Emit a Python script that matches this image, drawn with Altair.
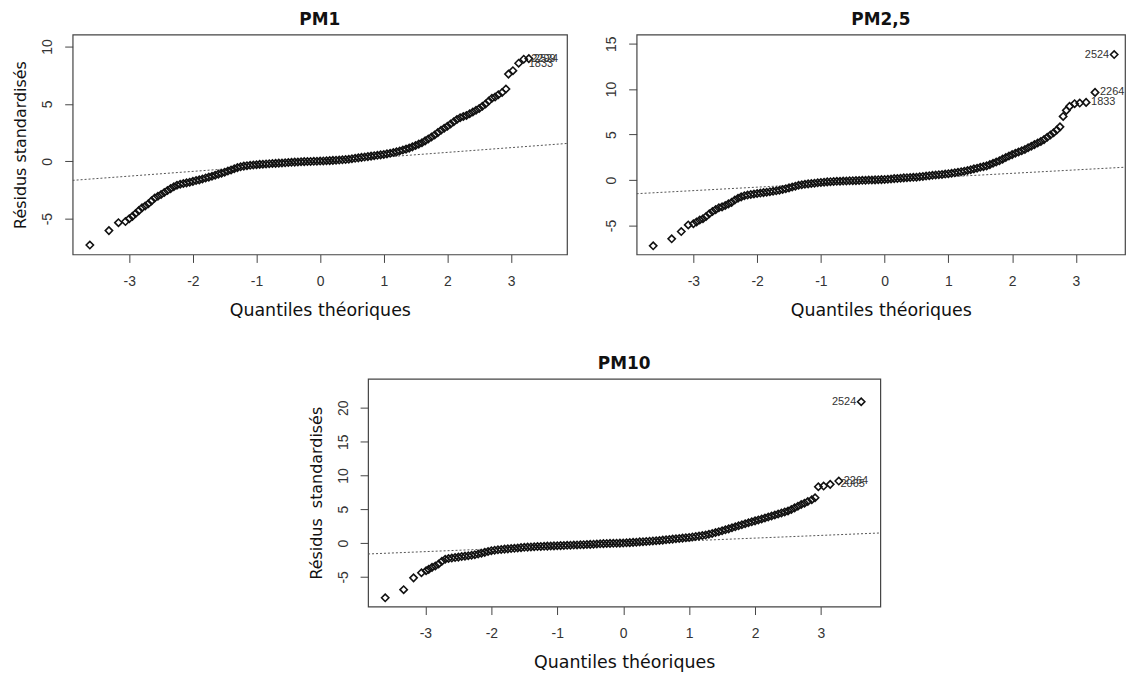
import altair as alt
import pandas as pd

# ---------------- data ----------------
titles = ["PM1", "PM2,5", "PM10"]
x_ticks = [-3, -2, -1, 0, 1, 2, 3]

pm1_q = [-3.62, -3.32, -3.17, -3.06, -3.00, -2.95, -2.90, -2.85, -2.80, -2.75,
         -2.70, -2.65, -2.60, -2.55, -2.50, -2.45, -2.40, -2.35, -2.30, -2.25,
         -2.20, -2.15, -2.10, -2.05, -2.00, -1.95, -1.90, -1.85, -1.80, -1.75,
         -1.70, -1.65, -1.60, -1.55, -1.50, -1.45, -1.40, -1.35, -1.30, -1.25,
         -1.20, -1.15, -1.10, -1.05, -1.00, -0.95, -0.90, -0.85, -0.80, -0.75,
         -0.70, -0.65, -0.60, -0.55, -0.50, -0.45, -0.40, -0.35, -0.30, -0.25,
         -0.20, -0.15, -0.10, -0.05, 0.00, 0.05, 0.10, 0.15, 0.20, 0.25,
         0.30, 0.35, 0.40, 0.45, 0.50, 0.55, 0.60, 0.65, 0.70, 0.75,
         0.80, 0.85, 0.90, 0.95, 1.00, 1.05, 1.10, 1.15, 1.20, 1.25,
         1.30, 1.35, 1.40, 1.45, 1.50, 1.55, 1.60, 1.65, 1.70, 1.75,
         1.80, 1.85, 1.90, 1.95, 2.00, 2.05, 2.10, 2.15, 2.20, 2.25,
         2.30, 2.35, 2.40, 2.45, 2.50, 2.55, 2.60, 2.65, 2.70, 2.75,
         2.80, 2.86, 2.92, 2.96, 3.03, 3.12, 3.20, 3.28]
pm1_r = [-7.30, -6.04, -5.35, -5.25, -5.00, -4.80, -4.55, -4.30, -4.05, -3.90,
         -3.70, -3.45, -3.20, -3.05, -2.90, -2.72, -2.55, -2.38, -2.22, -2.08,
         -2.00, -1.94, -1.88, -1.82, -1.75, -1.68, -1.62, -1.54, -1.45, -1.38,
         -1.30, -1.21, -1.12, -1.04, -0.95, -0.85, -0.75, -0.65, -0.55, -0.48,
         -0.42, -0.38, -0.35, -0.32, -0.30, -0.27, -0.25, -0.23, -0.21, -0.19,
         -0.18, -0.16, -0.15, -0.13, -0.11, -0.09, -0.07, -0.06, -0.04, -0.03,
         -0.02, -0.01, 0.00, 0.01, 0.02, 0.03, 0.05, 0.06, 0.08, 0.10,
         0.11, 0.13, 0.15, 0.18, 0.22, 0.26, 0.30, 0.34, 0.37, 0.41,
         0.45, 0.49, 0.52, 0.56, 0.60, 0.65, 0.70, 0.76, 0.82, 0.90,
         0.98, 1.06, 1.15, 1.26, 1.38, 1.50, 1.62, 1.78, 1.95, 2.12,
         2.30, 2.50, 2.70, 2.88, 3.05, 3.25, 3.45, 3.65, 3.80, 3.90,
         4.00, 4.15, 4.30, 4.45, 4.60, 4.80, 5.00, 5.25, 5.50, 5.60,
         5.80, 6.00, 6.30, 7.60, 7.90, 8.55, 8.90, 8.95]

pm25_q = [-3.63, -3.34, -3.19, -3.08, -3.00, -2.95, -2.90, -2.85, -2.80, -2.75,
          -2.70, -2.65, -2.60, -2.55, -2.50, -2.45, -2.40, -2.35, -2.30, -2.25,
          -2.20, -2.15, -2.10, -2.05, -2.00, -1.95, -1.90, -1.85, -1.80, -1.75,
          -1.70, -1.65, -1.60, -1.55, -1.50, -1.45, -1.40, -1.35, -1.30, -1.25,
          -1.20, -1.15, -1.10, -1.05, -1.00, -0.95, -0.90, -0.85, -0.80, -0.75,
          -0.70, -0.65, -0.60, -0.55, -0.50, -0.45, -0.40, -0.35, -0.30, -0.25,
          -0.20, -0.15, -0.10, -0.05, 0.00, 0.05, 0.10, 0.15, 0.20, 0.25,
          0.30, 0.35, 0.40, 0.45, 0.50, 0.55, 0.60, 0.65, 0.70, 0.75,
          0.80, 0.85, 0.90, 0.95, 1.00, 1.05, 1.10, 1.15, 1.20, 1.25,
          1.30, 1.35, 1.40, 1.45, 1.50, 1.55, 1.60, 1.65, 1.70, 1.75,
          1.80, 1.85, 1.90, 1.95, 2.00, 2.05, 2.10, 2.15, 2.20, 2.25,
          2.30, 2.35, 2.40, 2.45, 2.50, 2.55, 2.60, 2.65, 2.70, 2.75,
          2.80, 2.85, 2.90, 2.98, 3.06, 3.16, 3.30, 3.60]
pm25_r = [-7.23, -6.46, -5.66, -4.93, -4.80, -4.60, -4.40, -4.25, -4.00, -3.70,
          -3.45, -3.25, -3.05, -2.95, -2.80, -2.62, -2.45, -2.20, -2.00, -1.85,
          -1.72, -1.65, -1.58, -1.53, -1.48, -1.43, -1.38, -1.33, -1.28, -1.23,
          -1.18, -1.12, -1.04, -0.95, -0.86, -0.76, -0.67, -0.58, -0.52, -0.46,
          -0.42, -0.38, -0.34, -0.30, -0.26, -0.23, -0.20, -0.18, -0.16, -0.14,
          -0.13, -0.11, -0.10, -0.08, -0.07, -0.06, -0.04, -0.03, -0.02, 0.00,
          0.01, 0.02, 0.04, 0.05, 0.07, 0.09, 0.12, 0.16, 0.18, 0.21,
          0.24, 0.26, 0.28, 0.30, 0.32, 0.36, 0.40, 0.44, 0.48, 0.52,
          0.55, 0.59, 0.62, 0.66, 0.70, 0.75, 0.80, 0.86, 0.92, 0.98,
          1.05, 1.14, 1.23, 1.31, 1.40, 1.48, 1.56, 1.70, 1.84, 1.98,
          2.12, 2.30, 2.48, 2.64, 2.80, 2.95, 3.08, 3.22, 3.36, 3.55,
          3.72, 3.90, 4.08, 4.25, 4.45, 4.70, 4.95, 5.20, 5.50, 5.85,
          7.00, 7.66, 8.10, 8.40, 8.47, 8.54, 9.64, 13.80]

pm10_q = [-3.61, -3.33, -3.18, -3.06, -2.99, -2.95, -2.90, -2.85, -2.80, -2.75,
          -2.70, -2.65, -2.60, -2.55, -2.50, -2.45, -2.40, -2.35, -2.30, -2.25,
          -2.20, -2.15, -2.10, -2.05, -2.00, -1.95, -1.90, -1.85, -1.80, -1.75,
          -1.70, -1.65, -1.60, -1.55, -1.50, -1.45, -1.40, -1.35, -1.30, -1.25,
          -1.20, -1.15, -1.10, -1.05, -1.00, -0.95, -0.90, -0.85, -0.80, -0.75,
          -0.70, -0.65, -0.60, -0.55, -0.50, -0.45, -0.40, -0.35, -0.30, -0.25,
          -0.20, -0.15, -0.10, -0.05, 0.00, 0.05, 0.10, 0.15, 0.20, 0.25,
          0.30, 0.35, 0.40, 0.45, 0.50, 0.55, 0.60, 0.65, 0.70, 0.75,
          0.80, 0.85, 0.90, 0.95, 1.00, 1.05, 1.10, 1.15, 1.20, 1.25,
          1.30, 1.35, 1.40, 1.45, 1.50, 1.55, 1.60, 1.65, 1.70, 1.75,
          1.80, 1.85, 1.90, 1.95, 2.00, 2.05, 2.10, 2.15, 2.20, 2.25,
          2.30, 2.35, 2.40, 2.45, 2.50, 2.55, 2.60, 2.65, 2.70, 2.75,
          2.80, 2.86, 2.91, 2.96, 3.04, 3.14, 3.27, 3.61]
pm10_r = [-8.10, -6.90, -5.15, -4.40, -4.10, -3.90, -3.60, -3.40, -3.10, -2.70,
          -2.40, -2.30, -2.22, -2.15, -2.08, -2.00, -1.94, -1.88, -1.80, -1.72,
          -1.62, -1.50, -1.38, -1.25, -1.13, -1.06, -1.00, -0.95, -0.90, -0.86,
          -0.82, -0.78, -0.73, -0.68, -0.63, -0.60, -0.58, -0.55, -0.52, -0.50,
          -0.48, -0.46, -0.44, -0.42, -0.40, -0.38, -0.36, -0.34, -0.32, -0.30,
          -0.28, -0.26, -0.24, -0.22, -0.20, -0.17, -0.14, -0.11, -0.09, -0.07,
          -0.05, -0.04, -0.02, -0.01, 0.00, 0.03, 0.06, 0.10, 0.13, 0.17,
          0.20, 0.24, 0.27, 0.31, 0.34, 0.38, 0.43, 0.48, 0.53, 0.58,
          0.63, 0.68, 0.73, 0.78, 0.83, 0.90, 0.97, 1.04, 1.11, 1.18,
          1.30, 1.42, 1.55, 1.68, 1.81, 1.96, 2.10, 2.25, 2.40, 2.55,
          2.70, 2.85, 3.00, 3.14, 3.28, 3.42, 3.56, 3.70, 3.85, 4.00,
          4.15, 4.30, 4.45, 4.60, 4.75, 4.95, 5.20, 5.45, 5.70, 5.90,
          6.15, 6.40, 6.70, 8.33, 8.43, 8.68, 9.17, 20.90]

# reference (qqline) intercept and slope
qqline_a = [-0.05, -0.02, -0.07]
qqline_b = [0.414, 0.38, 0.40]

# point labels: (q, r, text, side)
pm1_labels = [(3.28, 8.95, "2524", "right"), (3.24, 8.90, "2299", "right"), (3.20, 8.45, "1833", "right")]
pm25_labels = [(3.60, 13.80, "2524", "left"), (3.30, 9.64, "2264", "right"), (3.16, 8.54, "1833", "right")]
pm10_labels = [(3.61, 20.90, "2524", "left"), (3.27, 9.17, "2264", "right"), (3.22, 8.68, "2065", "right")]

# scale domains and y ticks
x_domains = [[-3.89, 3.88], [-3.89, 3.77], [-3.87, 3.90]]
y_domains = [[-8.12, 11.04], [-8.18, 15.99], [-9.40, 24.30]]
y_ticks = [[-5, 0, 5, 10], [-5, 0, 5, 10, 15], [-5, 0, 5, 10, 15, 20]]
sizes = [(497, 221), (491, 221), (515, 229)]
y_titles = ["Résidus standardisés", None, "Résidus\u00a0 standardisés"]

LABEL_FONT = "Liberation Sans"
TITLE_FONT = "DejaVu Sans"


def panel(i, qs, rs, labels):
    w, h = sizes[i]
    xs = alt.Scale(domain=x_domains[i], nice=False, zero=False)
    ys = alt.Scale(domain=y_domains[i], nice=False, zero=False)
    xax = alt.Axis(values=x_ticks, labelExpr="'' + datum.value", title="Quantiles théoriques",
                   tickSize=8, labelPadding=12, titlePadding=13, titleFontSize=17.5,
                   domain=False, grid=False, labelFlush=False, labelOverlap=False)
    yargs = dict(values=y_ticks[i], labelExpr="'' + datum.value", labelAngle=270,
                 labelAlign="center", labelBaseline="bottom", titleFontSize=16,
                 tickSize=8, labelPadding=10, titlePadding=12, domain=False, grid=False,
                 labelFlush=False, labelOverlap=False)
    if y_titles[i] is not None:
        yax = alt.Axis(title=y_titles[i], **yargs)
    else:
        yax = alt.Axis(title=None, **yargs)

    pts = pd.DataFrame({"q": qs, "r": rs})
    a, b = qqline_a[i], qqline_b[i]
    lo, hi = x_domains[i]
    line_df = pd.DataFrame({"q": [lo, hi], "r": [a + b * lo, a + b * hi]})

    X = alt.X("q:Q", scale=xs, axis=xax)
    Y = alt.Y("r:Q", scale=ys, axis=yax)

    line = alt.Chart(line_df).mark_line(color="#555", strokeDash=[2, 2], strokeWidth=1, clip=True).encode(x=X, y=Y)
    points = alt.Chart(pts).mark_point(shape="diamond", filled=False, size=54, strokeWidth=1.6,
                                       color="#111", opacity=1).encode(x=X, y=Y)
    layers = [line, points]
    right = pd.DataFrame([{"q": l[0], "r": l[1], "t": l[2]} for l in labels if l[3] == "right"])
    left = pd.DataFrame([{"q": l[0], "r": l[1], "t": l[2]} for l in labels if l[3] == "left"])
    if len(right):
        layers.append(alt.Chart(right).mark_text(align="left", dx=5, font=LABEL_FONT, fontSize=11,
                                                 color="#333").encode(x=X, y=Y, text="t:N"))
    if len(left):
        layers.append(alt.Chart(left).mark_text(align="right", dx=-5, font=LABEL_FONT, fontSize=11,
                                                color="#333").encode(x=X, y=Y, text="t:N"))
    return alt.layer(*layers).properties(
        width=w, height=h,
        title=alt.TitleParams(titles[i], font=TITLE_FONT, fontSize=17, fontWeight="bold",
                              color="#111", anchor="middle", offset=6),
    )


p1 = panel(0, pm1_q, pm1_r, pm1_labels)
p2 = panel(1, pm25_q, pm25_r, pm25_labels)
p3 = panel(2, pm10_q, pm10_r, pm10_labels)

spacer = alt.Chart(pd.DataFrame({"q": [0]})).mark_point(opacity=0).encode(
    x=alt.X("q:Q", axis=None), y=alt.Y("q:Q", axis=None)
).properties(width=235, height=10, view=alt.ViewBackground(stroke="transparent"))

top = alt.hconcat(p1, p2, spacing=36)
bottom = alt.hconcat(spacer, p3, spacing=0)

chart = alt.vconcat(top, bottom, spacing=34).properties(
    padding={"left": 4, "top": 0, "right": 0, "bottom": 0},
    background="white",
).configure_view(stroke="#444", strokeWidth=1.2).configure_axis(
    labelFont=LABEL_FONT, labelFontSize=14, labelColor="#333",
    titleFont=TITLE_FONT, titleFontWeight="normal", titleColor="#111",
    tickColor="#444", tickWidth=1
)

chart.save("out.html", embed_options={"renderer": "svg", "actions": False})
